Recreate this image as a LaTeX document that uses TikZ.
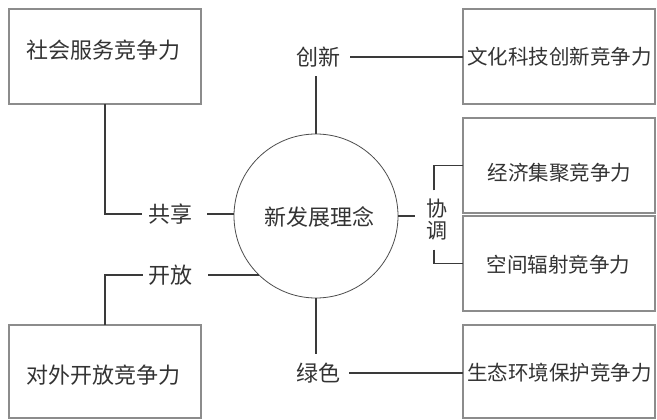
\documentclass[tikz,border=0pt]{standalone}
\usepackage{fontspec}
\setmainfont{Noto Sans CJK SC}
\usetikzlibrary{calc}
\definecolor{boxgray}{HTML}{8C8C8C}
\definecolor{linedark}{HTML}{3A3A3A}
\definecolor{txtgray}{HTML}{333333}
\begin{document}
\begin{tikzpicture}[x=1pt,y=-1pt,
  boxstyle/.style={draw=boxgray,line width=1.1pt,minimum width=192pt,minimum height=95pt,inner sep=0pt,outer sep=0pt},
  boxtext/.style={text=txtgray,font=\fontsize{20.5}{24}\selectfont,inner sep=0pt},
  bigtext/.style={text=txtgray,font=\fontsize{22}{26}\selectfont,inner sep=0pt},
  lab/.style={text=txtgray,font=\fontsize{22}{26}\selectfont,inner xsep=0pt,inner ysep=9pt,outer sep=0pt},
  conn/.style={draw=linedark,line width=1.8pt},
  hub/.style={circle,draw=black!70,line width=0.8pt,minimum size=164pt,inner sep=0pt,outer sep=0pt}
]
\useasboundingbox (0,0) rectangle (657,420);
\fill[white] (0,0) rectangle (657,420);

% boxes
\node[boxstyle] (a) at (105,56.5) {};
\node[boxstyle] (b) at (559,56.5) {};
\node[boxstyle] (c) at (559,165.5) {};
\node[boxstyle] (d) at (559,263.5) {};
\node[boxstyle,minimum height=93pt] (e) at (559,371.5) {};
\node[boxstyle,minimum height=93pt] (f) at (105,371.5) {};

\node[bigtext] (ta) at (103.5,50) {社会服务竞争力};
\node[boxtext] (tb) at (559.5,57) {文化科技创新竞争力};
\node[boxtext] (tc) at (559.5,173) {经济集聚竞争力};
\node[boxtext] (td) at (558.5,265) {空间辐射竞争力};
\node[boxtext] (te) at (559.5,373) {生态环境保护竞争力};
\node[bigtext] (tf) at (103.5,375) {对外开放竞争力};

% hub
\node[hub] (mc) at (316,216) {};
\node[bigtext] (mct) at (319,217) {新发展理念};

% labels
\node[lab] (innov) at (318,57) {创新};
\node[lab] (share) at (170,214) {共享};
\node[lab] (open) at (170,275) {开放};
\node[lab] (green) at (318,373) {绿色};
\node[lab,align=center,inner xsep=0pt,inner ysep=9pt,font=\fontsize{21}{22}\selectfont] (coord) at (437,220) {协\\调};

% connectors
\draw[conn] (mc.north) -- (mc.north |- innov.south);
\draw[conn,shorten <=10pt] (innov.east) -- (innov.east -| b.west);

\draw[conn,shorten >=6pt] (a.south) |- (share.west);
\draw[conn,shorten <=15pt] (share.east) -- (share.east -| mc.west);

\draw[conn,shorten >=5pt] (f.north) |- (open.west);
\draw[conn,shorten <=16pt] (open.east) -- (open.east -| mc.-134);

\draw[conn] (mc.south) -- (mc.south |- green.north);
\draw[conn,shorten <=9pt] (green.east) -- (green.east -| e.west);

\draw[conn,shorten >=12pt] (mc.east |- 0,216) -- (coord.west |- 0,216);
\draw[conn] (coord.north -| 434,0) |- (c.west);
\draw[conn] (coord.south -| 434,0) |- (d.west);
\end{tikzpicture}
\end{document}
